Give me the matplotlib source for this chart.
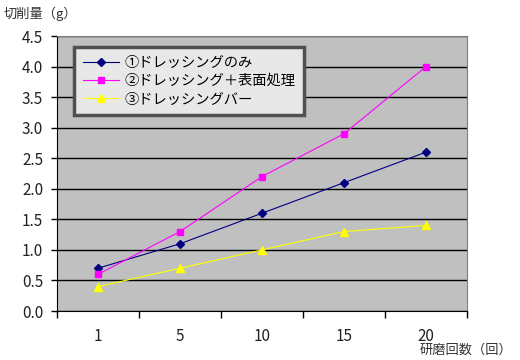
import matplotlib
matplotlib.use('Agg')
import matplotlib.pyplot as plt
from matplotlib.ticker import FixedLocator, NullFormatter

plt.rcParams['font.family'] = ['Noto Sans CJK JP', 'DejaVu Sans']

# data
categories = ['1', '5', '10', '15', '20']
dressing_only = [0.7, 1.1, 1.6, 2.1, 2.6]
dressing_surface = [0.6, 1.3, 2.2, 2.9, 4.0]
dressing_bar = [0.4, 0.7, 1.0, 1.3, 1.4]
series_labels = ['①ドレッシングのみ', '②ドレッシング＋表面処理', '③ドレッシングバー']

fig = plt.figure(figsize=(5.2, 3.6), dpi=100)
ax = fig.add_axes([57 / 520, 49 / 360, 410 / 520, 275 / 360])
ax.set_facecolor('#c0c0c0')

x = list(range(len(categories)))
ax.plot(x, dressing_only, color='#000080', marker='D', markersize=4, linewidth=0.8, label=series_labels[0])
ax.plot(x, dressing_surface, color='#ff00ff', marker='s', markersize=5, linewidth=0.8, label=series_labels[1])
ax.plot(x, dressing_bar, color='#ffff00', marker='^', markersize=6, linewidth=0.8, label=series_labels[2])

ax.set_xlim(-0.5, len(categories) - 0.5)
ax.set_ylim(0, 4.5)
ax.set_yticks([i * 0.5 for i in range(10)])
ax.set_yticklabels([f'{i * 0.5:.1f}' for i in range(10)], fontsize=11, color='#222222')
ax.yaxis.grid(True, color='black', linewidth=1)
ax.set_axisbelow(True)

# category labels centred, ticks between categories
ax.set_xticks(x)
ax.set_xticklabels(categories, fontsize=11, color='#222222')
ax.tick_params(axis='x', which='major', length=0, pad=12)
ax.xaxis.set_minor_locator(FixedLocator([i + 0.5 for i in range(-1, len(categories))]))
ax.xaxis.set_minor_formatter(NullFormatter())
ax.tick_params(axis='x', which='minor', length=5, width=1, color='black')
ax.tick_params(axis='y', length=4, width=1, color='black', pad=6)

for side in ['top', 'right']:
    ax.spines[side].set_color('#808080')
for side in ['left', 'bottom']:
    ax.spines[side].set_color('black')

leg = ax.legend(loc='upper left', bbox_to_anchor=(0.025, 0.985), fontsize=10.3,
                frameon=True, fancybox=False, borderpad=0.6, labelspacing=0.3,
                handlelength=2.5, handletextpad=0.4)
leg.get_frame().set_facecolor('#e8e8e8')
leg.get_frame().set_edgecolor('#505050')
leg.get_frame().set_linewidth(2.5)
leg.get_frame().set_alpha(1)

fig.text(4 / 520, 1 - 14 / 360, '切削量（g）', fontsize=9.5, color='#333333', va='center')
fig.text(512 / 520, 1 - 350 / 360, '研磨回数（回）', fontsize=9.5, color='#333333', va='center', ha='right')

fig.savefig('out.png', dpi=100)
